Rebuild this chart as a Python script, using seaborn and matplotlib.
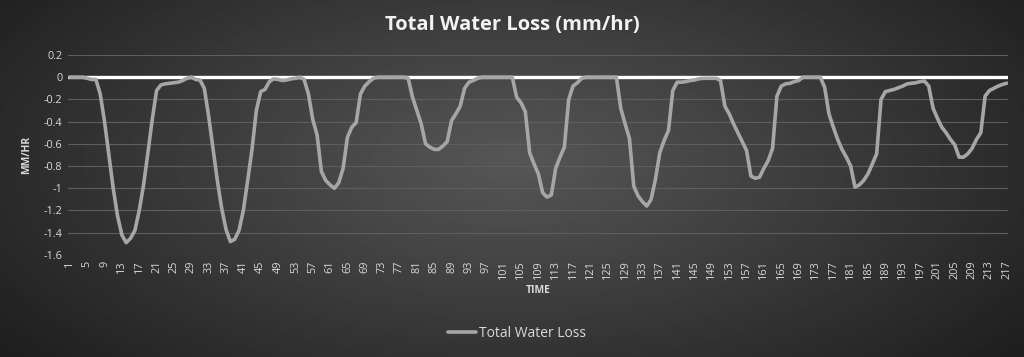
import numpy as np
import pandas as pd
import matplotlib
matplotlib.use('Agg')
import matplotlib.pyplot as plt
import seaborn as sns

# values (mm/hr), time steps 1..217
loss_1_54 = [0, 0, 0, 0, -0.01, -0.02, -0.02, -0.15, -0.4, -0.7,
             -1.0, -1.25, -1.42, -1.49, -1.45, -1.38, -1.2, -0.97, -0.68, -0.38,
             -0.12, -0.07, -0.06, -0.055, -0.05, -0.045, -0.03, -0.01, 0, -0.02,
             -0.025, -0.1, -0.35, -0.64, -0.93, -1.18, -1.37, -1.48, -1.46, -1.38,
             -1.2, -0.93, -0.65, -0.3, -0.13, -0.11, -0.04, -0.015, -0.02, -0.03,
             -0.025, -0.015, -0.01, 0]
loss_55_109 = [-0.02, -0.15, -0.38, -0.52, -0.85, -0.93, -0.97, -1.0, -0.95, -0.82,
               -0.54, -0.45, -0.41, -0.15, -0.08, -0.04, -0.01, 0, 0, 0,
               0, 0, 0, 0, -0.01, -0.18, -0.3, -0.42, -0.6, -0.63,
               -0.65, -0.65, -0.62, -0.58, -0.39, -0.33, -0.26, -0.1, -0.045, -0.03,
               -0.01, 0, 0, 0, 0, 0, 0, 0, 0, -0.18,
               -0.23, -0.31, -0.68, -0.78, -0.87]
loss_110_163 = [-1.04, -1.08, -1.06, -0.82, -0.72, -0.63, -0.2, -0.08, -0.05, -0.01,
                0, 0, 0, 0, 0, 0, 0, 0, -0.28, -0.42,
                -0.55, -0.98, -1.07, -1.12, -1.16, -1.1, -0.92, -0.68, -0.57, -0.48,
                -0.12, -0.045, -0.045, -0.04, -0.03, -0.025, -0.015, -0.01, -0.01, -0.01,
                -0.01, -0.03, -0.26, -0.33, -0.42, -0.5, -0.58, -0.66, -0.89, -0.91,
                -0.9, -0.82, -0.75, -0.64]
loss_164_217 = [-0.17, -0.08, -0.06, -0.055, -0.04, -0.03, 0, 0, 0, 0,
                0, -0.09, -0.33, -0.45, -0.56, -0.65, -0.72, -0.8, -0.99, -0.97,
                -0.93, -0.87, -0.78, -0.69, -0.2, -0.13, -0.12, -0.11, -0.095, -0.08,
                -0.06, -0.055, -0.05, -0.04, -0.035, -0.08, -0.28, -0.37, -0.45, -0.5,
                -0.56, -0.61, -0.72, -0.72, -0.69, -0.64, -0.56, -0.5, -0.17, -0.12,
                -0.1, -0.08, -0.065, -0.054]

water_loss = loss_1_54 + loss_55_109 + loss_110_163 + loss_164_217
time_steps = list(range(1, len(water_loss) + 1))
y_ticks = [0.2, 0, -0.2, -0.4, -0.6, -0.8, -1, -1.2, -1.4, -1.6]

df = pd.DataFrame({'TIME': time_steps, 'Total Water Loss': water_loss})

sns.set_style('dark')
plt.rcParams['font.family'] = ['Open Sans', 'DejaVu Sans']

fig = plt.figure(figsize=(10.24, 3.57), dpi=100)

# dark radial background like the Excel theme
bg = fig.add_axes([0, 0, 1, 1], zorder=-1)
gx, gy = np.meshgrid(np.linspace(0, 1, 400), np.linspace(0, 1, 200))
r = np.sqrt(((gx - 0.5) / 0.55) ** 2 + ((gy - 0.45) / 0.75) ** 2)
shade = np.clip(0.34 - 0.19 * r, 0.11, 0.35)
bg.imshow(shade, cmap='gray', vmin=0, vmax=1, aspect='auto', extent=[0, 1, 0, 1])
bg.axis('off')

ax = fig.add_axes([0.0665, 0.286, 0.918, 0.56])
ax.set_facecolor('none')

ax.axhline(0, color='white', lw=2.4, zorder=2)
sns.lineplot(data=df, x='TIME', y='Total Water Loss', ax=ax, color='#a6a6a6',
             lw=2.6, label='Total Water Loss', zorder=3)

ax.set_xlim(0.6, 217.3)
ax.set_ylim(-1.6, 0.2)
ax.set_yticks(y_ticks)
ax.set_yticklabels([f'{v:g}' for v in y_ticks])
ax.set_xticks(time_steps[::4])
ax.set_xticklabels([str(t) for t in time_steps[::4]], rotation=90)
ax.tick_params(colors='#d9d9d9', labelsize=7.8, length=0, pad=4)
ax.grid(axis='y', color='#5e5e5e', lw=0.8)
ax.grid(axis='x', visible=False)
for s in ax.spines.values():
    s.set_visible(False)

ax.set_xlabel('TIME', color='#d9d9d9', fontsize=7.5, fontweight='bold', labelpad=4)
ax.set_ylabel('MM/HR', color='#d9d9d9', fontsize=7.5, fontweight='bold', labelpad=8)

fig.text(0.5, 0.93, 'Total Water Loss (mm/hr)', ha='center', va='center',
         color='#f2f2f2', fontsize=14.5, fontweight='bold')

leg = ax.legend(loc='center', bbox_to_anchor=(0.505, 0.067), bbox_transform=fig.transFigure,
                frameon=False, fontsize=10, handlelength=2.0, handletextpad=0.2)
for t in leg.get_texts():
    t.set_color('#d9d9d9')

fig.savefig('out.png', dpi=100)
